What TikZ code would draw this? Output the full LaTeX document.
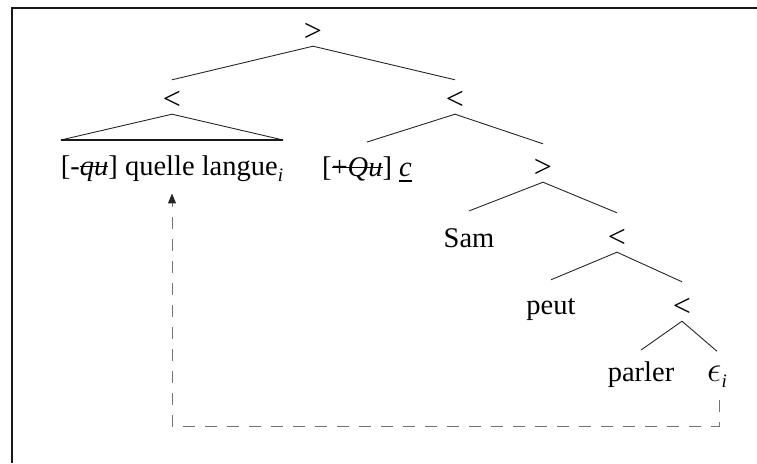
\documentclass[tikz,border=0pt]{standalone}
\usepackage{graphicx}
\usepackage{fontspec}
\setmainfont{Liberation Serif}
\usetikzlibrary{arrows.meta}
\newcommand\strk[1]{\leavevmode\setbox0\hbox{#1}\rlap{\rule[0.27em]{\wd0}{0.06em}}\box0}
\newcommand\ulc[1]{\leavevmode\setbox0\hbox{#1}\rlap{\rule[-0.2em]{\wd0}{0.07em}}\box0}
\newcommand\sbi{\raisebox{-0.22em}{\fontsize{19}{21}\selectfont\itshape i}}
\begin{document}
\begin{tikzpicture}[x=1pt,y=-1pt,
  every node/.style={font=\fontsize{28.5}{33}\selectfont, inner sep=0pt},
  sym/.style={minimum height=28pt},
  word/.style={anchor=base},
  branch/.style={line width=0.9pt, draw=black!85},
  dashline/.style={line width=1pt, draw=black!55, dash pattern=on 12pt off 10pt,
    -{Triangle[length=10pt,width=8pt,color=black!85]}}]
\useasboundingbox (0,0) rectangle (757,463);
\draw[line width=2pt, draw=black!90] (12,463) -- (12,8) -- (757,8);
% nodes
\node[sym] (r) at (313,32) {\fontsize{32}{34}\selectfont >};
\node[sym] (a) at (172,100) {\fontsize{32}{34}\selectfont <};
\node[sym] (b) at (455,100) {\fontsize{32}{34}\selectfont <};
\node[word] (ql) at (172,175) {[-\strk{\textit{qu}}] quelle langue\sbi};
\node[word] (qc) at (367,176) {[\strk{+\textit{Qu}}] \ulc{\textit{c}}};
\node[sym] (c) at (543,168) {\fontsize{32}{34}\selectfont >};
\node[word] (sam) at (469,247) {Sam};
\node[sym] (d) at (617,238) {\fontsize{32}{34}\selectfont <};
\node[word] (peut) at (551,314) {peut};
\node[sym] (e) at (682,307) {\fontsize{32}{34}\selectfont <};
\node[word] (parler) at (641,381) {parler};
\node[word] (eps) at (717,381) {\scalebox{1.45}{$\epsilon$}\sbi};
% branches
\draw[branch] ([yshift=6pt]a.north) -- (r.south) -- ([yshift=6pt]b.north);
\draw[branch] ([yshift=15pt]ql.north west) -- (a.south) -- ([yshift=15pt]ql.north east);
\draw[line width=2pt, draw=black!90] ([yshift=15pt]ql.north west) -- ([yshift=15pt]ql.north east);
\draw[branch] ([yshift=14pt]qc.north) -- (b.south) -- ([yshift=10pt]c.north);
\draw[branch] ([yshift=17pt]sam.north) -- (c.south) -- ([yshift=11pt]d.north);
\draw[branch] ([yshift=18pt]peut.north) -- (d.south) -- ([yshift=11pt]e.north);
\draw[branch] ([yshift=11pt]parler.north) -- (e.south) -- ([yshift=14pt]eps.north);
% movement
\coordinate (corner) at (719,426);
\draw[dashline] ([xshift=2pt,yshift=-13pt]eps.south) -- (corner) -| ([yshift=-12pt]ql.south);
\end{tikzpicture}
\end{document}
